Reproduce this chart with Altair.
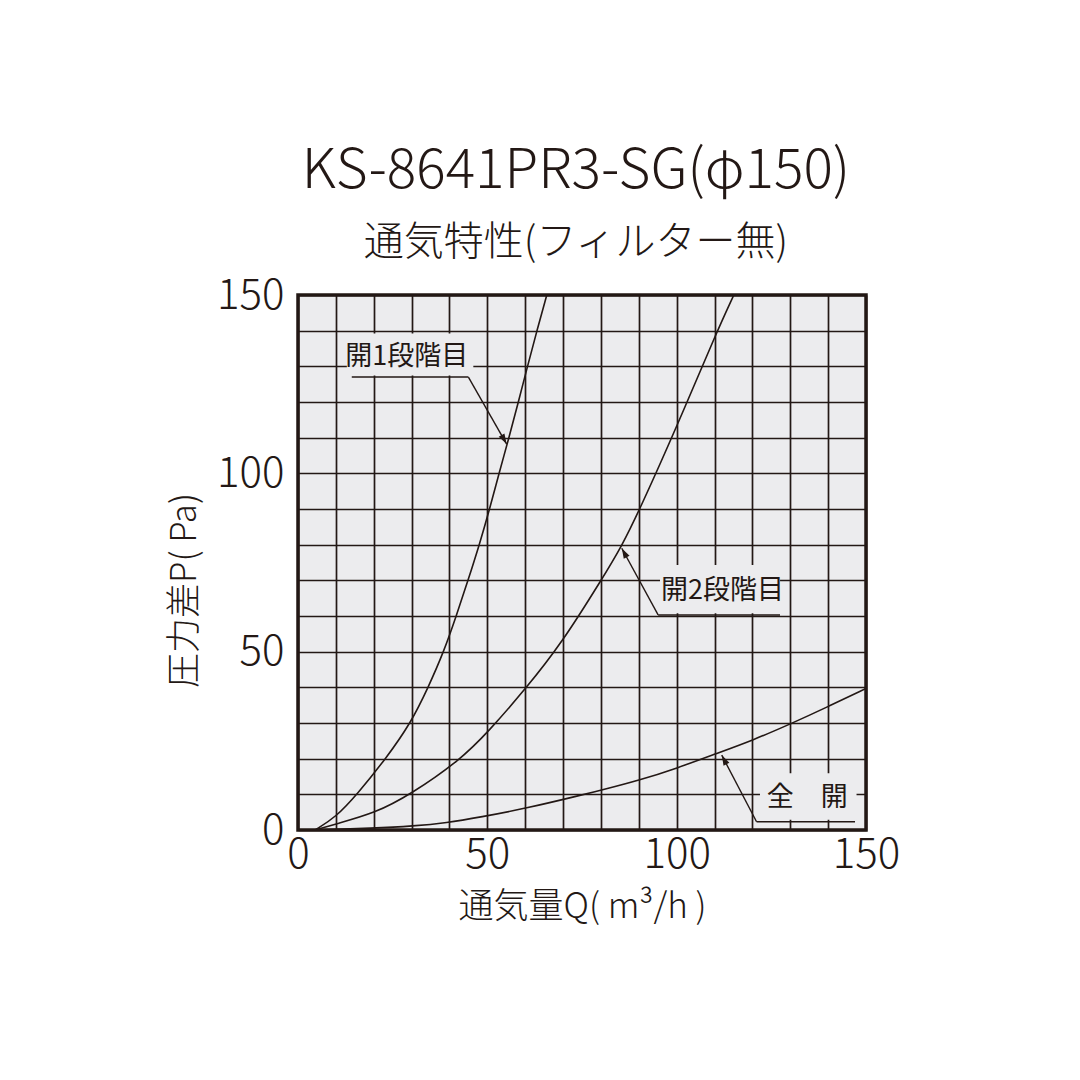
import math
import altair as alt
import pandas as pd

# ---- data ----
q1 = [4.5, 10, 15.6, 23.2, 29.8, 34.4, 38.5, 41.8, 44.9, 47.9, 50.6, 53.1, 55.7, 58.2, 60.6, 63.1, 65.7]
p1 = [0, 3.6, 10, 20, 30, 40, 50, 60, 70, 80, 90, 100, 110, 120, 130, 140, 150]
q2 = [4.5, 10, 20.3, 29.8, 42.8, 50.3, 60.2, 69.6, 80.4, 85.5, 90.3, 100, 110.6, 115.1]
p2 = [0, 1.7, 4.7, 10, 19.6, 27.6, 39.7, 52.3, 70.6, 79.6, 90.0, 113, 139.7, 150]
q3 = [4, 20, 30.5, 39.2, 48.1, 60.4, 74.5, 80.2, 90.3, 100, 110.1, 120.2, 130.4, 140, 150]
p3 = [0, 0.5, 1.1, 2.0, 3.6, 6.1, 9.7, 11.2, 14.0, 17.3, 21.3, 25.2, 29.9, 34.6, 39.7]
series = ["開1段階目", "開2段階目", "全開"]

# annotations (data units)
ann_text = ["開1段階目", "開2段階目", "全　開"]
ann_q = [28.7, 112.1, 134.5]
ann_p = [132.5, 67.0, 9.1]
under_qa = [14.2, 95.1, 121.1]
under_qb = [45.0, 127.3, 147.1]
under_p = [127.0, 60.3, 2.3]
lead_q = [45.0, 95.1, 121.1]
tip_q = [55.1, 85.5, 111.9]
tip_p = [108.2, 79.0, 21.0]
gap_qa = [12.9, 95.6, 122.0]
gap_qb = [46.3, 127.3, 147.5]
gap_pa = [127.4, 60.8, 2.9]
gap_pb = [139.2, 74.3, 15.9]

INK = "#231815"
BG = "#ECECEE"
FONT = "Noto Sans CJK JP"
W, H = 568, 535

rows = []
for name, qs, ps in zip(series, [q1, q2, q3], [p1, p2, p3]):
    for i, (q, p) in enumerate(zip(qs, ps)):
        rows.append({"s": name, "i": i, "Q": q, "P": p})
curves = pd.DataFrame(rows)

sx, sy = W / 150.0, H / 150.0
angles = []
for lq, lp, tq, tp in zip(lead_q, under_p, tip_q, tip_p):
    dx = (tq - lq) * sx
    dy = -(tp - lp) * sy
    angles.append(math.degrees(math.atan2(dx, -dy)) % 360)

ann = pd.DataFrame({
    "t": ann_text, "q": ann_q, "p": ann_p,
    "ua": under_qa, "ub": under_qb, "up": under_p,
    "lq": lead_q, "tq": tip_q, "tp": tip_p, "ang": angles,
    "ga": gap_qa, "gb": gap_qb, "gpa": gap_pa, "gpb": gap_pb,
})

xs = alt.Scale(domain=[0, 150], nice=False, zero=False)
ys = alt.Scale(domain=[0, 150], nice=False, zero=False)
grid_vals = list(range(0, 151, 10))

x_axis = alt.Axis(values=grid_vals, labelExpr="datum.value % 50 == 0 ? datum.label : ''",
                  title="通気量Q( m³/h )", grid=True, ticks=False, domain=False,
                  labelFlush=False)
y_axis = alt.Axis(values=grid_vals, labelExpr="datum.value % 50 == 0 ? datum.label : ''",
                  title="圧力差P( Pa)", grid=True, ticks=False, domain=False,
                  labelFlush=False, titleY=295)


def X(f):
    return alt.X(f, type="quantitative", scale=xs, axis=x_axis)


def Y(f):
    return alt.Y(f, type="quantitative", scale=ys, axis=y_axis)


base_curve = alt.Chart(curves).mark_line(
    color=INK, strokeWidth=1.6, interpolate="basis", clip=True
).encode(
    x=X("Q"),
    y=Y("P"),
    detail="s:N",
    order="i:Q",
)

a = alt.Chart(ann)
gaps = a.mark_rect(fill=BG).encode(
    x=X("ga"), x2="gb:Q", y=Y("gpa"), y2="gpb:Q")
underline = a.mark_rule(color=INK, strokeWidth=1.4).encode(
    x=X("ua"), x2="ub:Q", y=Y("up"))
leader = a.mark_rule(color=INK, strokeWidth=1.4).encode(
    x=X("lq"), y=Y("up"), x2="tq:Q", y2="tp:Q")
arrow = a.mark_point(shape="M0,0 L-0.32,1 L0.32,1 Z", filled=True, color=INK,
                     size=420, opacity=1).encode(
    x=X("tq"), y=Y("tp"), angle=alt.Angle("ang:Q", scale=None))
labels = a.mark_text(font=FONT, fontSize=27, color=INK, align="center",
                     baseline="middle").encode(x=X("q"), y=Y("p"), text="t:N")

chart = alt.layer(base_curve, gaps, underline, leader, arrow, labels).properties(
    width=W, height=H,
    autosize=alt.AutoSizeParams(type="none"),
    padding={"left": 290, "top": 287, "right": 190, "bottom": 230},
    title=alt.TitleParams(
        text="KS-8641PR3-SG(φ150)",
        subtitle="通気特性(フィルター無)",
        font=FONT, fontSize=55, fontWeight=300, color=INK,
        subtitleFont=FONT, subtitleFontSize=40, subtitleFontWeight=300,
        subtitleColor=INK, subtitlePadding=23,
        anchor="middle", offset=10, dx=-6,
    ),
).configure_view(
    fill=BG, stroke=INK, strokeWidth=3.5
).configure_axis(
    gridColor=INK, gridWidth=1.7, gridOpacity=1,
    labelFont=FONT, labelFontSize=42, labelColor=INK, labelFontWeight=300,
    titleFont=FONT, titleFontSize=35, titleColor=INK, titleFontWeight=300,
).configure_axisX(
    labelPadding=4, titlePadding=14,
).configure_axisY(
    labelPadding=14, titlePadding=14,
)

chart.save("out.html", embed_options={"renderer": "svg", "actions": False})
